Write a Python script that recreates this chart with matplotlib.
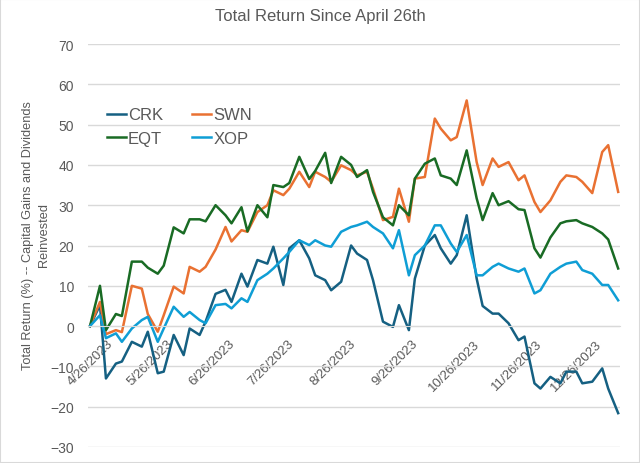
import matplotlib.pyplot as plt
import matplotlib.dates as mdates
import pandas as pd
from matplotlib.patches import Rectangle

# every third trading day from 4/26/2023
dates = pd.bdate_range('2023-04-26', '2024-01-16')[::3]

crk = [0, 5.2, -13, -9.3, -8.8, -3.9, -5.1, -1.4, -11.7, -11.3,
       -2.2, -7.2, -0.6, -2.2, 1.1, 8, 9, 6, 13, 9.8,
       16.4, 15.5, 19.7, 10.2, 19.3, 21.3, 16.8, 12.6, 11.4, 8.9,
       11, 20, 18, 16.4, 11.4, 1.1, -0.2, 5.2, -1, 11.8,
       20, 22.6, 19.3, 15.5, 17.6, 27.5, 11.8, 5, 3.1, 3.1,
       0.7, -3.5, -2.6, -14.2, -15.5, -12.6, -14.2, -11.3, -11.3, -14.2,
       -13.8, -10.5, -15.5, -21.6]
swn = [0, 6, -2, -1, -1.5, 10, 9.3, 3, -1.4, 2.7,
       9.8, 8.1, 14.7, 13.5, 14.7, 19, 24.6, 21, 23.8, 23.4,
       28.3, 30, 33.7, 32.5, 34.1, 38.3, 34.5, 38.3, 37, 35.8,
       39.9, 38.7, 37.4, 38.3, 34.1, 26.3, 27.1, 34.1, 25.9, 36.6,
       37, 51.5, 49, 46.1, 46.9, 56, 40.7, 35, 41.6, 39.5,
       40.7, 36.2, 37.4, 30.8, 28.3, 31.2, 35.8, 37.4, 37, 35.8,
       33, 43.2, 44.9, 33.3]
eqt = [0, 10, -1, 3, 2.5, 16, 16, 14.5, 13, 15,
       24.5, 23, 26.5, 26.5, 26, 30, 27.5, 25.5, 29.5, 23.5,
       30, 27, 35, 34.5, 35.5, 42, 36.5, 38.5, 43, 35.5,
       42, 40, 37, 38.7, 33.3, 27, 25, 30, 27.5, 36.6,
       40.3, 41.6, 37.4, 36.6, 35, 43.6, 31.7, 26.3, 33, 30,
       31, 29, 28.8, 19.3, 17, 22, 25.5, 26, 26.3, 25.5,
       24.6, 23, 21.5, 14.3]
xop = [0, 2.7, -3, -1.8, -3.9, -0.6, 1.5, 2.3, -3.9, -0.6,
       4.8, 2.3, 3.5, 1.5, 0.7, 5.2, 5.5, 4.4, 6.9, 6,
       11.4, 13, 14.3, 16.8, 18.4, 21.3, 20.1, 21.3, 20, 19.7,
       23.4, 24.6, 25, 25.9, 24.6, 23, 19.3, 23.8, 12.6, 17.6,
       20, 25, 25, 20.5, 18.4, 22.6, 12.6, 12.6, 14.7, 15.5,
       14.3, 13.5, 14.3, 8.1, 8.9, 13, 14.7, 15.5, 16, 13.9,
       13, 10.2, 10.2, 6.4]

names = ['CRK', 'SWN', 'EQT', 'XOP']
cores = ['#156082', '#E97132', '#196B24', '#0F9ED5']

tick_labels = ['4/26/2023', '5/26/2023', '6/26/2023', '7/26/2023', '8/26/2023',
               '9/26/2023', '10/26/2023', '11/26/2023', '12/26/2023']
yticks = [-30, -20, -10, 0, 10, 20, 30, 40, 50, 60, 70]

plt.rcParams['font.family'] = ['Liberation Sans', 'DejaVu Sans']
cinza = '#595959'

fig = plt.figure(figsize=(6.4, 4.64), dpi=100)
ax = fig.add_axes([0.1375, 0.0345, 0.8315, 0.8685])

x = mdates.date2num(dates)
linhas = []
for serie, nome, cor in zip([crk, swn, eqt, xop], names, cores):
    l, = ax.plot(x, serie, color=cor, lw=1.8, label=nome)
    linhas.append(l)

ax.set_ylim(-30, 70)
ax.set_yticks(yticks)
ax.set_xlim(x[0] - 1, x[-1] + 1)
xt = mdates.date2num(pd.to_datetime(tick_labels, format='%m/%d/%Y'))
ax.set_xticks(xt, tick_labels)
ax.tick_params(axis='x', length=0, pad=8, labelsize=9.5, labelcolor=cinza,
               labelrotation=45)
for t in ax.get_xticklabels():
    t.set_ha('right')
    t.set_va('center')
    t.set_rotation_mode('anchor')
ax.tick_params(axis='y', length=0, pad=10, labelsize=10, labelcolor=cinza)
ax.grid(axis='y', color='#D9D9D9', lw=1)
ax.set_axisbelow(True)
for s in ['top', 'right', 'left']:
    ax.spines[s].set_visible(False)
ax.spines['bottom'].set_position(('data', 0))
ax.spines['bottom'].set_color('#D9D9D9')

ax.set_ylabel('Total Return (%) -- Capital Gains and Dividends\nReinvested',
              fontsize=9.2, color=cinza, linespacing=1.45)
ax.yaxis.set_label_coords(-0.072, 0.528)

# row order: CRK SWN / EQT XOP
ordem = [0, 2, 1, 3]
ax.legend([linhas[i] for i in ordem], [names[i] for i in ordem], ncol=2,
          loc='upper left', bbox_to_anchor=(0.008, 0.88), frameon=False,
          fontsize=12, handlelength=1.1, handletextpad=0.15, columnspacing=1.75,
          labelspacing=0.5, labelcolor=cinza)

fig.text(0.5, 0.965, 'Total Return Since April 26th', ha='center', va='center',
         fontsize=12, color=cinza, family=['Liberation Sans Narrow', 'Liberation Sans'])

fig.patches.append(Rectangle((0, 0), 1, 1, transform=fig.transFigure, fill=False,
                             edgecolor='#D9D9D9', lw=1.5))

fig.savefig('out.png', dpi=100)
